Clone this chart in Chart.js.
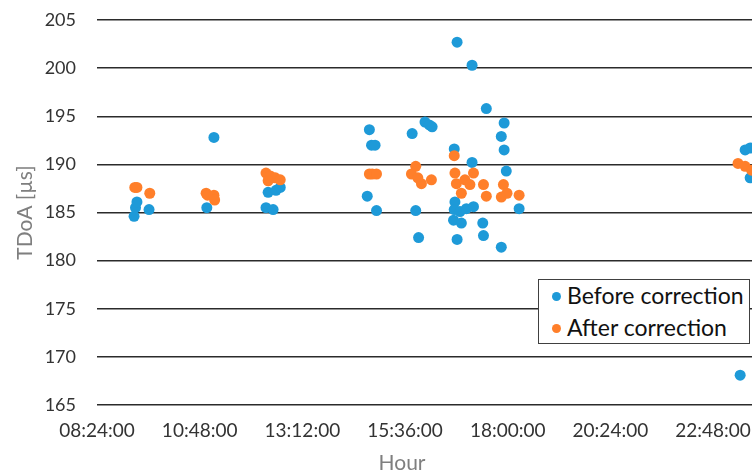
<!DOCTYPE html>
<html>
<head>
<meta charset="utf-8">
<script src="https://cdn.jsdelivr.net/npm/chart.js@4/dist/chart.umd.min.js"></script>
<style>
  html, body { margin: 0; padding: 0; background: #fff; }
  #wrap { position: relative; width: 752px; height: 472px; overflow: hidden; }
  #c { position: absolute; left: 0; top: 0; }
  #legend { position: absolute; left: 538px; top: 279px; width: 212px; height: 65px;
    border: 1.5px solid #404040; background: #fff; font-family: Lato, "Liberation Sans", sans-serif;
    font-size: 23px; color: #111; box-sizing: border-box; }
  .item { position: absolute; left: 13px; height: 28px; line-height: 28px; white-space: nowrap; }
  .dot { display: inline-block; width: 9px; height: 9px; border-radius: 50%; margin-right: 6px; vertical-align: 3px; }
  #xtitle { position: absolute; left: 352px; width: 100px; top: 449px; text-align: center;
    font-family: Lato, "Liberation Sans", sans-serif; font-size: 21px; color: #7f7f7f; }
</style>
</head>
<body>
<div id="wrap">
  <canvas id="c" width="752" height="472"></canvas>
  <div id="legend">
    <div class="item" style="top:1px"><span class="dot" style="background:#1E9AD8"></span>Before correction</div>
    <div class="item" style="top:33px"><span class="dot" style="background:#FF7F2A"></span>After correction</div>
  </div>
  <div id="xtitle">Hour</div>
</div>
<script>
// ---- Data (times as HH:MM, values in µs) ----
const beforeTimes = [
  '09:16','09:18','09:20','09:37',
  '10:58','11:08',
  '12:21','12:31','12:24','12:35','12:41',
  '14:46','14:49','14:54','14:43','14:56',
  '15:46','16:04','16:10','16:14','15:51','15:55',
  '16:49','17:10','16:45','17:10','16:46','16:45','16:53','17:02','17:12','16:44','16:55','16:49',
  '17:30','17:55','17:51','17:55','17:58','18:16','17:25','17:26','17:51',
  '23:33','23:40','23:40','23:26'
];
const beforeValues = [
  184.6, 185.5, 186.1, 185.3,
  185.5, 192.8,
  185.5, 185.3, 187.1, 187.3, 187.6,
  193.6, 192.0, 192.0, 186.7, 185.2,
  193.2, 194.4, 194.1, 193.9, 185.2, 182.4,
  202.7, 200.3, 191.6, 190.2, 186.1, 185.3, 185.1, 185.4, 185.6, 184.2, 183.9, 182.2,
  195.8, 194.3, 192.9, 191.5, 189.3, 185.4, 183.9, 182.6, 181.4,
  191.5, 191.7, 188.6, 168.1
];
const afterTimes = [
  '09:17','09:20','09:38',
  '10:57','10:59','11:08','11:09',
  '12:21','12:27','12:34','12:41','12:24',
  '14:46','14:50','14:56',
  '15:51','15:45','15:59','16:13','15:54',
  '16:45','16:46','16:48','16:55','17:00','17:12','17:07','17:26','17:30',
  '17:54','17:51','17:59','18:16',
  '23:23','23:33','23:42'
];
const afterValues = [
  187.6, 187.6, 187.0,
  187.0, 186.8, 186.8, 186.3,
  189.1, 188.8, 188.6, 188.4, 188.3,
  189.0, 189.0, 189.0,
  189.8, 189.0, 188.0, 188.4, 188.6,
  190.9, 189.1, 188.0, 187.0, 188.4, 189.1, 187.9, 187.9, 186.7,
  187.9, 186.6, 187.0, 186.8,
  190.1, 189.8, 189.4
];
const xTickLabels = ['08:24:00','10:48:00','13:12:00','15:36:00','18:00:00','20:24:00','22:48:00'];
const yTickValues = [165,170,175,180,185,190,195,200,205];

// ---- helpers ----
const toMin = s => { const p = s.split(':'); return (+p[0]) * 60 + (+p[1]); };
const fmt = m => { const h = Math.floor(m / 60), mm = Math.round(m % 60);
  return String(h).padStart(2,'0') + ':' + String(mm).padStart(2,'0') + ':00'; };
const pts = (t, v) => t.map((s, i) => ({ x: toMin(s), y: v[i] }));
const xTicks = xTickLabels.map(toMin);

const FONT = 'Lato, "Liberation Sans", sans-serif';

new Chart(document.getElementById('c'), {
  type: 'scatter',
  data: {
    datasets: [
      { label: 'Before correction', data: pts(beforeTimes, beforeValues),
        backgroundColor: '#1E9AD8', borderWidth: 0, pointRadius: 5.5, order: 1 },
      { label: 'After correction', data: pts(afterTimes, afterValues),
        backgroundColor: '#FF7F2A', borderWidth: 0, pointRadius: 5.5, order: 0 }
    ]
  },
  options: {
    responsive: false,
    animation: false,
    events: [],
    layout: { autoPadding: false, padding: { top: 20, right: 0, bottom: 0, left: 0 } },
    plugins: { legend: { display: false }, tooltip: { enabled: false } },
    scales: {
      x: {
        type: 'linear',
        min: xTicks[0],
        max: xTicks[0] + 918.6,
        grid: { display: false, drawTicks: false },
        border: { display: false },
        afterBuildTicks: s => { s.ticks = xTicks.map(v => ({ value: v })); },
        afterFit: s => { s.height = 67; s.paddingLeft = 0; s.paddingRight = 0; },
        ticks: { callback: v => fmt(v), color: '#333', font: { family: FONT, size: 19 },
          padding: 14, maxRotation: 0, autoSkip: false }
      },
      y: {
        min: 165, max: 205,
        afterBuildTicks: s => { s.ticks = yTickValues.map(v => ({ value: v })); },
        afterFit: s => { s.width = 97; s.paddingTop = 0; s.paddingBottom = 0; },
        grid: { color: '#2b2b2b', lineWidth: 1.5, drawTicks: false },
        border: { display: false },
        ticks: { color: '#333', font: { family: FONT, size: 18 }, padding: 21 },
        title: { display: true, text: 'TDoA [µs]', color: '#7f7f7f',
          font: { family: FONT, size: 21 }, padding: { top: 13, bottom: 0 } }
      }
    }
  }
});
</script>
</body>
</html>
